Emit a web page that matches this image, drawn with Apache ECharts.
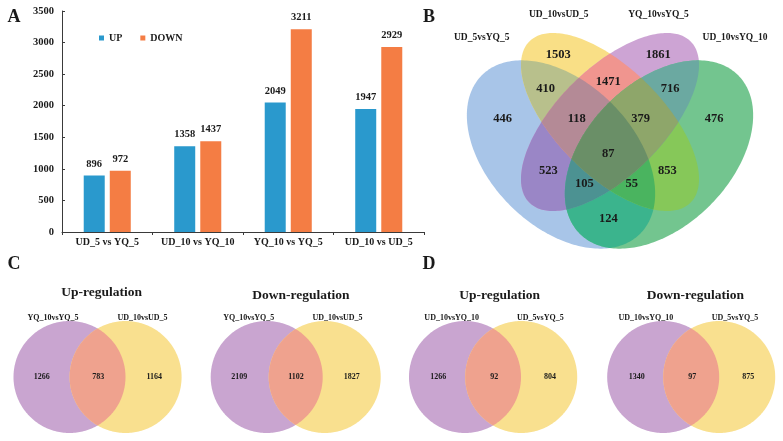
<!DOCTYPE html>
<html><head><meta charset="utf-8">
<script src="https://cdn.jsdelivr.net/npm/echarts@6/dist/echarts.min.js"></script>
<style>html,body{margin:0;padding:0;background:#fff}#c{width:783px;height:441px}</style>
</head><body><div id="c"></div>
<script>
// ---------------- DATA ----------------
const categories = ['UD_5 vs YQ_5', 'UD_10 vs YQ_10', 'YQ_10 vs YQ_5', 'UD_10 vs UD_5'];
const upValues = [896, 1358, 2049, 1947];
const downValues = [972, 1437, 3211, 2929];
const seriesNames = ['UP', 'DOWN'];
const yMin = 0, yMax = 3500, yInterval = 500;

// Venn B: four sets, 15 regions (set indices), counts
const vennBSetNames = ['UD_5vsYQ_5', 'UD_10vsUD_5', 'YQ_10vsYQ_5', 'UD_10vsYQ_10'];
const vennBRegionSets = [[0],[1],[2],[3],[0,1],[0,2],[0,3],[1,2],[1,3],[2,3],[0,1,2],[0,1,3],[0,2,3],[1,2,3],[0,1,2,3]];
const vennBCounts = [446, 1503, 1861, 476, 410, 523, 124, 1471, 853, 716, 118, 55, 105, 379, 87];

// Venn C/D: two-set diagrams: [left only, both, right only]
const vennCDTitles = ['Up-regulation', 'Down-regulation', 'Up-regulation', 'Down-regulation'];
const vennCDSetNames = [['YQ_10vsYQ_5','UD_10vsUD_5'], ['YQ_10vsYQ_5','UD_10vsUD_5'], ['UD_10vsYQ_10','UD_5vsYQ_5'], ['UD_10vsYQ_10','UD_5vsYQ_5']];
const vennCDCounts = [[1266, 783, 1164], [2109, 1102, 1827], [1266, 92, 804], [1340, 97, 875]];

// ---------------- LAYOUT / STYLE ----------------
const SERIF = '"Liberation Serif", "Times New Roman", serif';
const TXT = '#1a1a1a';
const barColors = ['#2A99CD', '#F47D44'];

// Venn B geometry (diagram units, y down)
const vennBEllipses = [
  {cx: 561, cy: 154.5, a: 112, b: 72, angle: 45},
  {cx: 610, cy: 122, a: 114, b: 53.4, angle: 45},
  {cx: 610, cy: 122, a: 114, b: 53.4, angle: -45},
  {cx: 659, cy: 154.5, a: 112, b: 72, angle: -45}
];
const vennBColors = ['#A8C5E8', '#F9DF86', '#CDA4D4', '#73C58F', '#B8C08C', '#9A86C6', '#3BB48D',
  '#F0958F', '#86C859', '#6BA9A1', '#B48A96', '#4AB45F', '#4C9292', '#8EA66A', '#6A8F67'];
const vennBLabelPos = [[502.7,118.3],[558.3,54.3],[658.3,54.3],[714,118.3],[545.7,88.3],[548.3,171],[608.3,218.3],
  [608.3,81.7],[667.3,171],[670,88.5],[576.7,118.3],[631.7,184],[584.3,184],[640.7,118.3],[608.3,153.7]];
const vennBSetLabelPos = [[481.7,38],[558.8,15],[658.5,15],[735,38]];

// Venn C/D geometry: [leftCx, rightCx, cy, r]
const vennCDCircles = [[69.5,125.6,377,56],[266.7,324.7,377,56],[465,521.2,377,56],[663.2,719.2,377,56]];
const vennCDColors = ['#C9A5D0', '#F9E08F', '#EFA28E'];
const vennCDTitlePos = [[101.7,292.5],[300.8,296],[499.7,296],[695.3,296]];
const vennCDSetLabelPos = [[[53,317.5],[142.5,317.5]],[[248.7,317.5],[337.5,317.5]],[[451.7,317.5],[540.3,317.5]],[[645.8,317.5],[735,317.5]]];
const vennCDCountPos = [[[41.7,377],[98.3,377],[154.3,377]],[[239.3,377],[296,377],[351.7,377]],[[438.3,377],[494.3,377],[550,377]],[[636.7,377],[692.3,377],[748.3,377]]];
const panelLetters = [['A',14,17.5],['B',429,17.5],['C',14,264],['D',429,264]];

// ---------------- GEOMETRY HELPERS ----------------
function ellipsePts(cx, cy, rx, ry, angDeg, n) {
  const t = angDeg * Math.PI / 180, c = Math.cos(t), s = Math.sin(t), pts = [];
  for (let i = 0; i < n; i++) {
    const th = 2 * Math.PI * i / n, x = rx * Math.cos(th), y = ry * Math.sin(th);
    pts.push([cx + x * c - y * s, cy + x * s + y * c]);
  }
  return pts;
}
function area(p) { let a = 0; for (let i = 0; i < p.length; i++) { const q = p[i], r = p[(i + 1) % p.length]; a += q[0] * r[1] - r[0] * q[1]; } return a / 2; }
function clip(subject, clipPoly) {
  const sign = area(clipPoly) > 0 ? 1 : -1;
  let output = subject;
  for (let i = 0; i < clipPoly.length; i++) {
    const A = clipPoly[i], B = clipPoly[(i + 1) % clipPoly.length];
    const input = output; output = [];
    if (!input.length) break;
    const inside = P => sign * ((B[0] - A[0]) * (P[1] - A[1]) - (B[1] - A[1]) * (P[0] - A[0])) >= 0;
    const inter = (P, Q) => {
      const d = (P[0] - Q[0]) * (A[1] - B[1]) - (P[1] - Q[1]) * (A[0] - B[0]);
      const t = ((P[0] - A[0]) * (A[1] - B[1]) - (P[1] - A[1]) * (A[0] - B[0])) / d;
      return [P[0] + t * (Q[0] - P[0]), P[1] + t * (Q[1] - P[1])];
    };
    for (let j = 0; j < input.length; j++) {
      const P = input[j], Q = input[(j + 1) % input.length];
      const pin = inside(P), qin = inside(Q);
      if (qin) { if (!pin) output.push(inter(P, Q)); output.push(Q); }
      else if (pin) output.push(inter(P, Q));
    }
  }
  return output;
}
function textEl(pt, text, size) {
  return {type: 'text', x: pt[0], y: pt[1], silent: true,
    style: {text: String(text), fill: TXT, font: 'bold ' + size + 'px ' + SERIF,
      align: 'center', verticalAlign: 'middle', textAlign: 'center', textVerticalAlign: 'middle'}};
}

// ---------------- GRAPHIC TEXTS ----------------
const graphics = [];
panelLetters.forEach(p => graphics.push(textEl([p[1], p[2]], p[0], 18)));
vennBSetNames.forEach((n, i) => graphics.push(textEl(vennBSetLabelPos[i], n, 9.5)));
vennCDTitles.forEach((t, i) => graphics.push(textEl(vennCDTitlePos[i], t, 13.5)));
vennCDSetNames.forEach((pair, i) => pair.forEach((n, k) => graphics.push(textEl(vennCDSetLabelPos[i][k], n, 8))));

// ---------------- CHART ----------------
const chart = echarts.init(document.getElementById('c'), null, {renderer: 'canvas'});
const axisColor = '#3a3a3a';
const vennBRegionData = vennBCounts.map((v, i) => [i, v]);
const vennCDRegionData = [];
vennCDCounts.forEach((c, v) => { vennCDRegionData.push([v, 0]); vennCDRegionData.push([v, 1]); vennCDRegionData.push([v, 2]); });
const vennBTextData = vennBCounts.map((v, i) => [vennBLabelPos[i][0], vennBLabelPos[i][1], v]);
const vennCDTextData = [];
vennCDCounts.forEach((c, v) => c.forEach((n, k) => vennCDTextData.push([vennCDCountPos[v][k][0], vennCDCountPos[v][k][1], n])));

chart.setOption({
  animation: false,
  backgroundColor: '#fff',
  graphic: graphics,
  legend: {
    data: seriesNames, left: 94, top: 28, itemWidth: 5, itemHeight: 5, itemGap: 18, icon: 'rect',
    textStyle: {fontFamily: SERIF, fontWeight: 'bold', fontSize: 10, color: TXT}
  },
  grid: [
    {left: 62, top: 11, width: 362, height: 221},
    {left: 400, top: 0, width: 383, height: 250},
    {left: 0, top: 250, width: 783, height: 191}
  ],
  xAxis: [
    {type: 'category', gridIndex: 0, data: categories,
      axisLine: {lineStyle: {color: axisColor, width: 1}},
      axisTick: {show: true, length: 3, lineStyle: {color: axisColor}},
      axisLabel: {interval: 0, margin: 5, fontFamily: SERIF, fontWeight: 'bold', fontSize: 10, color: TXT}},
    {type: 'value', gridIndex: 1, min: 400, max: 783, show: false},
    {type: 'value', gridIndex: 2, min: 0, max: 783, show: false}
  ],
  yAxis: [
    {type: 'value', gridIndex: 0, min: yMin, max: yMax, interval: yInterval,
      axisLine: {show: true, lineStyle: {color: axisColor, width: 1}},
      axisTick: {show: true, inside: true, length: 3, lineStyle: {color: axisColor}},
      splitLine: {show: false},
      axisLabel: {margin: 8, fontFamily: SERIF, fontWeight: 'bold', fontSize: 10.5, color: TXT,
        formatter: v => String(v)}},
    {type: 'value', gridIndex: 1, min: 0, max: 250, inverse: true, show: false},
    {type: 'value', gridIndex: 2, min: 250, max: 441, inverse: true, show: false}
  ],
  series: [
    {name: seriesNames[0], type: 'bar', xAxisIndex: 0, yAxisIndex: 0, data: upValues, barWidth: 21, barGap: '24%',
      itemStyle: {color: barColors[0]},
      label: {show: true, position: 'top', distance: 6, fontFamily: SERIF, fontWeight: 'bold', fontSize: 10.5, color: TXT}},
    {name: seriesNames[1], type: 'bar', xAxisIndex: 0, yAxisIndex: 0, data: downValues, barWidth: 21, barGap: '24%',
      itemStyle: {color: barColors[1]},
      label: {show: true, position: 'top', distance: 6, fontFamily: SERIF, fontWeight: 'bold', fontSize: 10.5, color: TXT}},
    {type: 'custom', xAxisIndex: 1, yAxisIndex: 1, data: vennBRegionData, clip: false, silent: true,
      renderItem: function (params, api) {
        const idx = api.value(0);
        const polys = vennBRegionSets[idx].map(k => {
          const e = vennBEllipses[k], c = api.coord([e.cx, e.cy]), sz = api.size([e.a, e.b]);
          return ellipsePts(c[0], c[1], sz[0], sz[1], e.angle, 240);
        });
        let poly = polys[0];
        for (let k = 1; k < polys.length; k++) poly = clip(poly, polys[k]);
        return {type: 'polygon', shape: {points: poly}, style: {fill: vennBColors[idx]}};
      }},
    {type: 'custom', xAxisIndex: 1, yAxisIndex: 1, data: vennBTextData, clip: false, silent: true, z: 5,
      renderItem: function (params, api) {
        const p = api.coord([api.value(0), api.value(1)]);
        return textEl(p, api.value(2), 12.5);
      }},
    {type: 'custom', xAxisIndex: 2, yAxisIndex: 2, data: vennCDRegionData, clip: false, silent: true,
      renderItem: function (params, api) {
        const v = api.value(0), r = api.value(1), g = vennCDCircles[v];
        const cL = api.coord([g[0], g[2]]), cR = api.coord([g[1], g[2]]), sz = api.size([g[3], g[3]]);
        const pL = ellipsePts(cL[0], cL[1], sz[0], sz[1], 0, 240);
        const pR = ellipsePts(cR[0], cR[1], sz[0], sz[1], 0, 240);
        const poly = r === 0 ? pL : (r === 1 ? pR : clip(pL, pR));
        return {type: 'polygon', shape: {points: poly}, style: {fill: vennCDColors[r]}};
      }},
    {type: 'custom', xAxisIndex: 2, yAxisIndex: 2, data: vennCDTextData, clip: false, silent: true, z: 5,
      renderItem: function (params, api) {
        const p = api.coord([api.value(0), api.value(1)]);
        return textEl(p, api.value(2), 8);
      }}
  ]
});
</script></body></html>
